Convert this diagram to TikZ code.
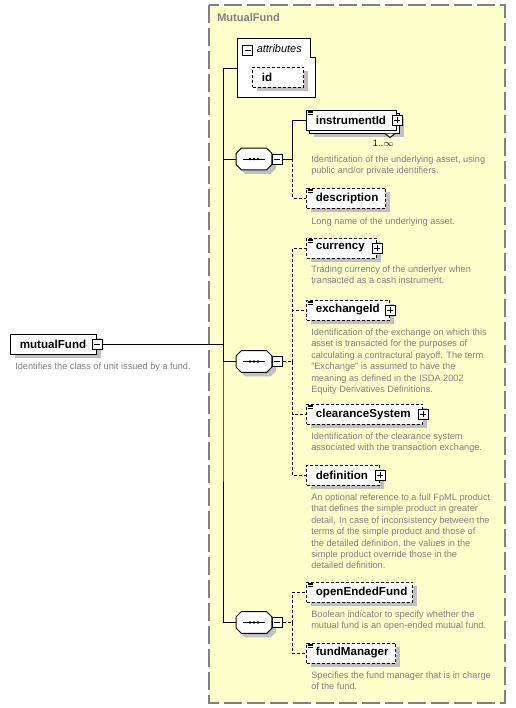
\documentclass[tikz,border=0pt]{standalone}
\usepackage{fontspec}
\setmainfont{Liberation Sans}
\usetikzlibrary{shadows, calc}
\definecolor{xsyellow}{RGB}{255,255,204}
\definecolor{xsgray}{RGB}{128,128,128}
\definecolor{xsshade}{RGB}{192,192,192}
\definecolor{xsocc}{RGB}{80,0,64}

% three short lines: element carries documentation
\newcommand{\docicon}[1]{%
  \foreach \k in {0,1,2}
    \draw[line width=0.5pt] ($(#1.north west)+(1.5,1.5+1.6*\k)$) -- ++(5,0);}
% octagon outline round a sequence node
\newcommand{\octpath}[1]{($(#1.north west)+(5,0)$) -- ($(#1.north east)+(-5,0)$)
  -- ($(#1.north east)+(0,5)$) -- ($(#1.south east)+(0,-5)$)
  -- ($(#1.south east)+(-5,0)$) -- ($(#1.south west)+(5,0)$)
  -- ($(#1.south west)+(0,-5)$) -- ($(#1.north west)+(0,5)$) -- cycle}
\newcommand{\seqicon}[1]{%
  \draw[line width=0.75pt, fill=white, shd] \octpath{#1};
  \draw[line width=0.75pt] ($(#1.center)+(-11,0)$) -- ($(#1.center)+(11,0)$);
  \foreach \dx in {-4,0,4}
    \fill ($(#1.center)+(\dx,0)$) circle (1pt);}

\begin{document}
\begin{tikzpicture}[x=0.75pt, y=-0.75pt,
  xbox/.style={draw, line width=0.75pt, fill=white, anchor=west, align=left,
    minimum height=15pt, inner xsep=7pt, inner ysep=0pt, text width=#1,
    font=\fontsize{8.7}{10}\selectfont\bfseries},
  shd/.style={drop shadow={shadow xshift=3pt, shadow yshift=-3pt, fill=xsshade, opacity=1}},
  elem/.style={xbox=#1, shd},
  optelem/.style={elem=#1, dash pattern=on 2.25pt off 1.5pt},
  note/.style={anchor=north west, inner sep=0pt, align=left, text=xsgray,
    font=\fontsize{6.9}{8.55}\selectfont},
  conn/.style={line width=0.75pt},
  optconn/.style={conn, dash pattern=on 2.25pt off 1.5pt},
  seqnode/.style={inner sep=0pt, minimum width=26.25pt, minimum height=15.75pt},
  pmbox/.style={draw, line width=0.75pt, fill=white, minimum size=7.5pt, inner sep=0pt},
  minusbox/.style={pmbox, path picture={
      \draw[line width=0.75pt] ([xshift=1.5pt]path picture bounding box.west)
        -- ([xshift=-1.5pt]path picture bounding box.east);}},
  plusbox/.style={pmbox, path picture={
      \draw[line width=0.75pt] ([xshift=1.5pt]path picture bounding box.west)
        -- ([xshift=-1.5pt]path picture bounding box.east);
      \draw[line width=0.75pt] ([yshift=-1.5pt]path picture bounding box.north)
        -- ([yshift=1.5pt]path picture bounding box.south);}},
]
  \useasboundingbox (0,0) rectangle (516,708);

  % group frame
  \draw[xsgray, line width=1.5pt, dash pattern=on 13.5pt off 3.75pt, fill=xsyellow]
    (209,5) rectangle (505,703);
  \node[anchor=west, inner sep=0pt, text=xsgray, font=\fontsize{8.3}{10}\selectfont\bfseries]
    (grp) at (217,18) {MutualFund};

  % root element
  \node[elem=50.5pt] (mf) at (10,344) {mutualFund};
  \node[minusbox] (mfm) at (mf.east) {};
  \node[note] (mfnote) at (15,362.5) {Identifies the class of unit issued by a fund.};

  % attributes
  \draw[line width=0.75pt, fill=white] (237,38) -- (310,38) -- (310,57) -- (315,57)
    -- (315,97.5) -- (237,97.5) -- cycle;
  \coordinate (attr) at (237,68);
  \node[minusbox] (attrm) at (247.5,50) {};
  \node[anchor=west, inner sep=0pt, font=\fontsize{8.2}{10}\selectfont\itshape]
    (attrlbl) at (256.5,49) {attributes};
  \node[optelem=24.25pt] (id) at (252,77) {id};

  % sequences
  \node[seqnode] (s1) at (254,159) {};
  \seqicon{s1}
  \node[minusbox, anchor=west] (s1m) at (s1.east) {};
  \node[seqnode] (s2) at (254,361.5) {};
  \seqicon{s2}
  \node[minusbox, anchor=west] (s2m) at (s2.east) {};
  \node[seqnode] (s3) at (254,622.5) {};
  \seqicon{s3}
  \node[minusbox, anchor=west] (s3m) at (s3.east) {};

  % first sequence
  \node[elem=53.5pt] (instB) at (309,123) {};
  \node[xbox=53.5pt] (inst) at (306,120) {instrumentId};
  \node[plusbox] (instp) at (inst.east) {};
  \docicon{inst}
  \draw[line width=0.75pt, fill=white] ($(instB.south east)+(-15,0)$) -- ++(5,4) -- ++(5,-4);
  \node[inner sep=0pt, text=xsocc, font=\fontsize{7}{8}\selectfont] (occ) at (383.5,143.5) {1..$\infty$};
  \node[note] (instnote) at (311,155.5) {Identification of the underlying asset, using\\
    public and/or private identifiers.};

  \node[optelem=45.25pt] (desc) at (306,198) {description};
  \docicon{desc}
  \node[note] (descnote) at (311,217.5) {Long name of the underlying asset.};

  % second sequence
  \node[optelem=38.5pt] (cur) at (306,248) {currency};
  \node[plusbox] (curp) at (cur.east) {};
  \docicon{cur}
  \node[note] (curnote) at (311,265.5) {Trading currency of the underlyer when\\
    transacted as a cash instrument.};

  \node[optelem=48.25pt] (exch) at (306,310) {exchangeId};
  \node[plusbox] (exchp) at (exch.east) {};
  \docicon{exch}
  \node[note] (exchnote) at (311,328.5) {Identification of the exchange on which this\\
    asset is transacted for the purposes of\\
    calculating a contractural payoff. The term\\
    "Exchange" is assumed to have the\\
    meaning as defined in the ISDA 2002\\
    Equity Derivatives Definitions.};

  \node[optelem=73pt] (clr) at (306,414) {clearanceSystem};
  \node[plusbox] (clrp) at (clr.east) {};
  \docicon{clr}
  \node[note] (clrnote) at (311,432.5) {Identification of the clearance system\\
    associated with the transaction exchange.};

  \node[optelem=40.75pt] (defn) at (306,475) {definition};
  \node[plusbox] (defnp) at (defn.east) {};
  \node[note] (defnnote) at (311,493.5) {An optional reference to a full FpML product\\
    that defines the simple product in greater\\
    detail. In case of inconsistency between the\\
    terms of the simple product and those of\\
    the detailed definition, the values in the\\
    simple product override those in the\\
    detailed definition.};

  % third sequence
  \node[optelem=65.5pt] (oef) at (306,592) {openEndedFund};
  \docicon{oef}
  \node[note] (oefnote) at (311,610.5) {Boolean indicator to specify whether the\\
    mutual fund is an open-ended mutual fund.};

  \node[optelem=52.75pt] (fm) at (306,653) {fundManager};
  \docicon{fm}
  \node[note] (fmnote) at (311,671.5) {Specifies the fund manager that is in charge\\
    of the fund.};

  % connectors
  \coordinate (trunk) at (223,344);
  \draw[conn] (mfm.east) -- (trunk);
  \draw[conn] (attr) -| (trunk) |- (s3.west);
  \draw[conn] (trunk) |- (s1.west);
  \draw[conn] (trunk) |- (s2.west);

  \draw[conn] (s1m.east) -- ++(10,0) coordinate (j1) |- (inst.west);
  \draw[optconn] (j1) |- (desc.west);

  \draw[optconn] (s2m.east) -- ++(10,0) coordinate (j2) |- (cur.west);
  \foreach \c in {exch, clr, defn}
    \draw[optconn] (j2) |- (\c.west);

  \draw[optconn] (s3m.east) -- ++(10,0) coordinate (j3) |- (oef.west);
  \draw[optconn] (j3) |- (fm.west);
\end{tikzpicture}
\end{document}
